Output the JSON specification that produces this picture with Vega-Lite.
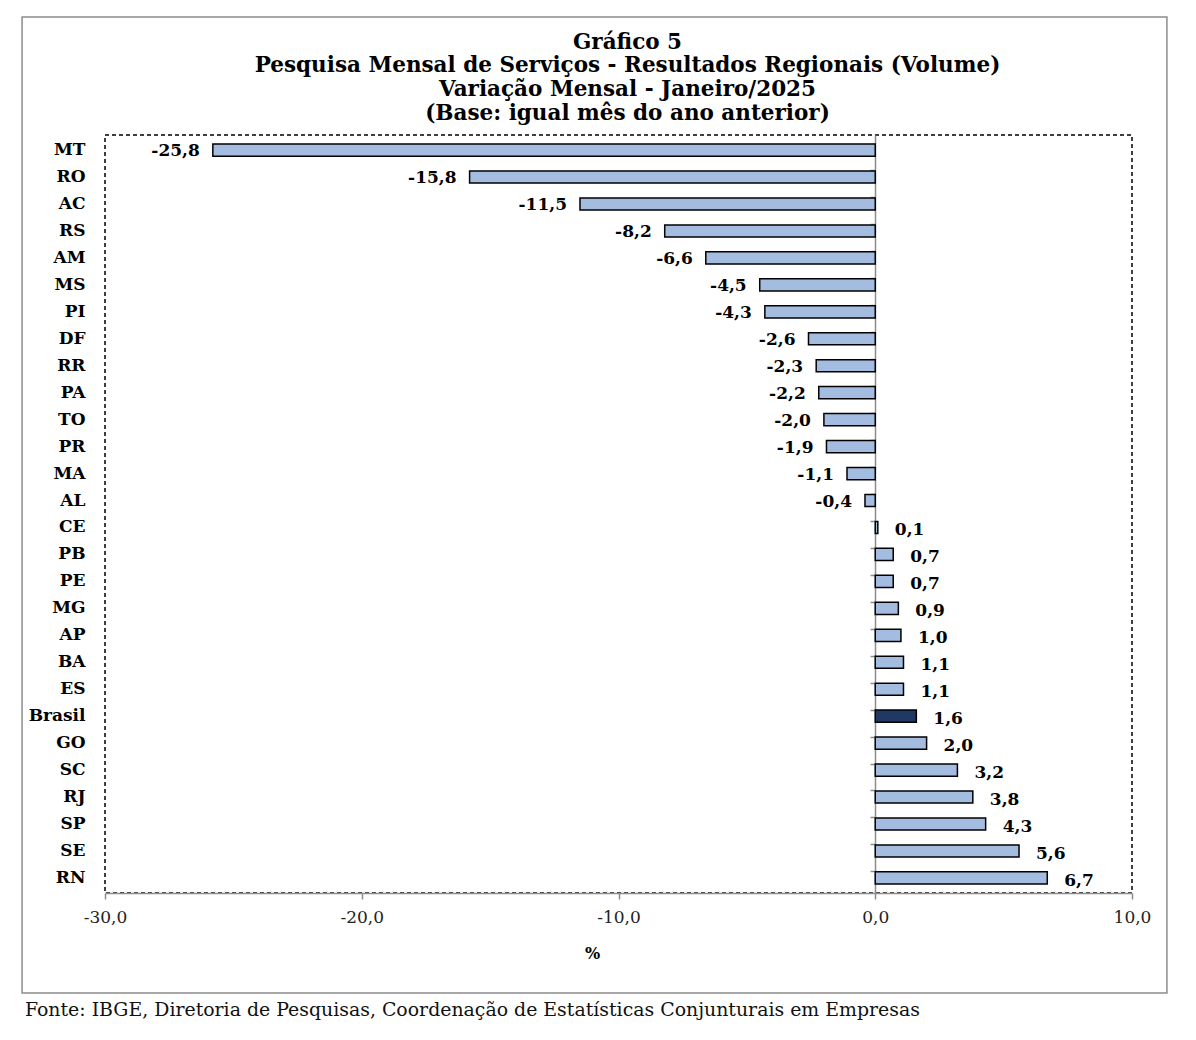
{
  "$schema": "https://vega.github.io/schema/vega-lite/v6.json",
  "width": 1027,
  "height": 758,
  "autosize": {"type": "none"},
  "padding": {"left": 105, "top": 135, "right": 64, "bottom": 147},
  "background": "white",
  "config": {
    "locale": {"number": {"decimal": ",", "thousands": ".", "grouping": [3], "currency": ["R$", ""], "minus": "-"}},
    "view": {"stroke": "#000000", "strokeDash": [4, 3], "strokeWidth": 1.5},
    "font": "DejaVu Serif"
  },
  "title": {
    "text": ["Gráfico 5", "Pesquisa  Mensal de Serviços - Resultados Regionais (Volume)", "Variação Mensal - Janeiro/2025", "(Base: igual mês do ano anterior)"],
    "anchor": "middle",
    "frame": "group",
    "font": "DejaVu Serif",
    "fontSize": 21.5,
    "fontWeight": "bold",
    "lineHeight": 23.7,
    "color": "#000000",
    "offset": -108,
    "dx": 9
  },
  "data": {
    "values": [
      {"uf": "MT", "v": -25.8},
      {"uf": "RO", "v": -15.8},
      {"uf": "AC", "v": -11.5},
      {"uf": "RS", "v": -8.2},
      {"uf": "AM", "v": -6.6},
      {"uf": "MS", "v": -4.5},
      {"uf": "PI", "v": -4.3},
      {"uf": "DF", "v": -2.6},
      {"uf": "RR", "v": -2.3},
      {"uf": "PA", "v": -2.2},
      {"uf": "TO", "v": -2.0},
      {"uf": "PR", "v": -1.9},
      {"uf": "MA", "v": -1.1},
      {"uf": "AL", "v": -0.4},
      {"uf": "CE", "v": 0.1},
      {"uf": "PB", "v": 0.7},
      {"uf": "PE", "v": 0.7},
      {"uf": "MG", "v": 0.9},
      {"uf": "AP", "v": 1.0},
      {"uf": "BA", "v": 1.1},
      {"uf": "ES", "v": 1.1},
      {"uf": "Brasil", "v": 1.6},
      {"uf": "GO", "v": 2.0},
      {"uf": "SC", "v": 3.2},
      {"uf": "RJ", "v": 3.8},
      {"uf": "SP", "v": 4.3},
      {"uf": "SE", "v": 5.6},
      {"uf": "RN", "v": 6.7}
    ]
  },
  "layer": [
    {
      "data": {"values": [{"frame": 1}]},
      "mark": {"type": "rect", "fill": null, "stroke": "#8c8c8c", "strokeWidth": 1.5, "clip": false},
      "encoding": {
        "x": {"datum": -33.23, "type": "quantitative", "scale": {"domain": [-30, 10], "nice": false}},
        "x2": {"datum": 11.36},
        "y": {"datum": 1.1557, "type": "quantitative", "scale": {"domain": [0, 1], "nice": false, "zero": false}, "axis": null},
        "y2": {"datum": -0.1319}
      }
    },
    {
      "data": {"values": [{"fonte": "Fonte: IBGE, Diretoria de Pesquisas, Coordenação de Estatísticas Conjunturais em Empresas"}]},
      "mark": {"type": "text", "align": "left", "baseline": "middle", "font": "DejaVu Serif", "fontSize": 18.9, "color": "#111111", "clip": false},
      "encoding": {
        "text": {"field": "fonte"},
        "x": {"datum": -33.12, "type": "quantitative"},
        "y": {"datum": -0.1544, "type": "quantitative", "scale": {"domain": [0, 1], "nice": false, "zero": false}, "axis": null}
      }
    },
    {
      "layer": [
        {
          "mark": {"type": "bar", "stroke": "#000000", "strokeWidth": 1.5},
          "encoding": {
            "y": {
              "field": "uf", "type": "nominal", "sort": null,
              "scale": {"paddingInner": 0.55, "paddingOuter": 0.334},
              "axis": {"orient": "left", "title": null, "domain": false, "ticks": false, "labelPadding": 20, "labelFont": "DejaVu Serif", "labelFontSize": 17, "labelFontWeight": "bold", "labelColor": "#000000"}
            },
            "x": {
              "field": "v", "type": "quantitative",
              "scale": {"domain": [-30, 10], "nice": false},
              "axis": {"title": "%", "titleX": 487, "format": ".1f", "values": [-30, -20, -10, 0, 10], "labelFlush": false, "grid": false, "domainColor": "#8c8c8c", "domainWidth": 1.5, "tickColor": "#8c8c8c", "tickSize": 6, "tickWidth": 1.5, "labelPadding": 10, "labelFont": "DejaVu Serif", "labelFontSize": 17, "labelColor": "#222222", "titleFont": "DejaVu Serif", "titleFontSize": 16, "titleFontWeight": "bold", "titleColor": "#000000", "titlePadding": 20}
            },
            "fill": {"condition": {"test": "datum.uf === 'Brasil'", "value": "#1f3864"}, "value": "#a3bce0"}
          }
        },
        {
          "transform": [{"filter": "datum.v < 0"}],
          "mark": {"type": "text", "align": "right", "baseline": "middle", "dx": -13, "dy": 1, "font": "DejaVu Serif", "fontSize": 17, "fontWeight": "bold", "color": "#000000"},
          "encoding": {
            "y": {"field": "uf", "type": "nominal", "sort": null, "axis": null},
            "x": {"field": "v", "type": "quantitative"},
            "text": {"field": "v", "type": "quantitative", "format": ".1f"}
          }
        },
        {
          "transform": [{"filter": "datum.v >= 0"}],
          "mark": {"type": "text", "align": "left", "baseline": "middle", "dx": 17, "dy": 3, "font": "DejaVu Serif", "fontSize": 17, "fontWeight": "bold", "color": "#000000"},
          "encoding": {
            "y": {"field": "uf", "type": "nominal", "sort": null, "axis": null},
            "x": {"field": "v", "type": "quantitative"},
            "text": {"field": "v", "type": "quantitative", "format": ".1f"}
          }
        },
        {
          "mark": {"type": "tick", "opacity": 0},
          "encoding": {
            "y": {
              "field": "uf", "type": "nominal", "sort": null,
              "axis": {"orient": "right", "offset": -257, "title": null, "labels": false, "bandPosition": 0, "domainColor": "#8c8c8c", "domainWidth": 1.5, "tickColor": "#8c8c8c", "tickSize": -5, "tickWidth": 1.5}
            },
            "x": {"field": "v", "type": "quantitative"}
          }
        }
      ],
      "resolve": {"axis": {"y": "independent"}}
    }
  ],
  "resolve": {"scale": {"y": "independent"}, "axis": {"y": "independent"}}
}
